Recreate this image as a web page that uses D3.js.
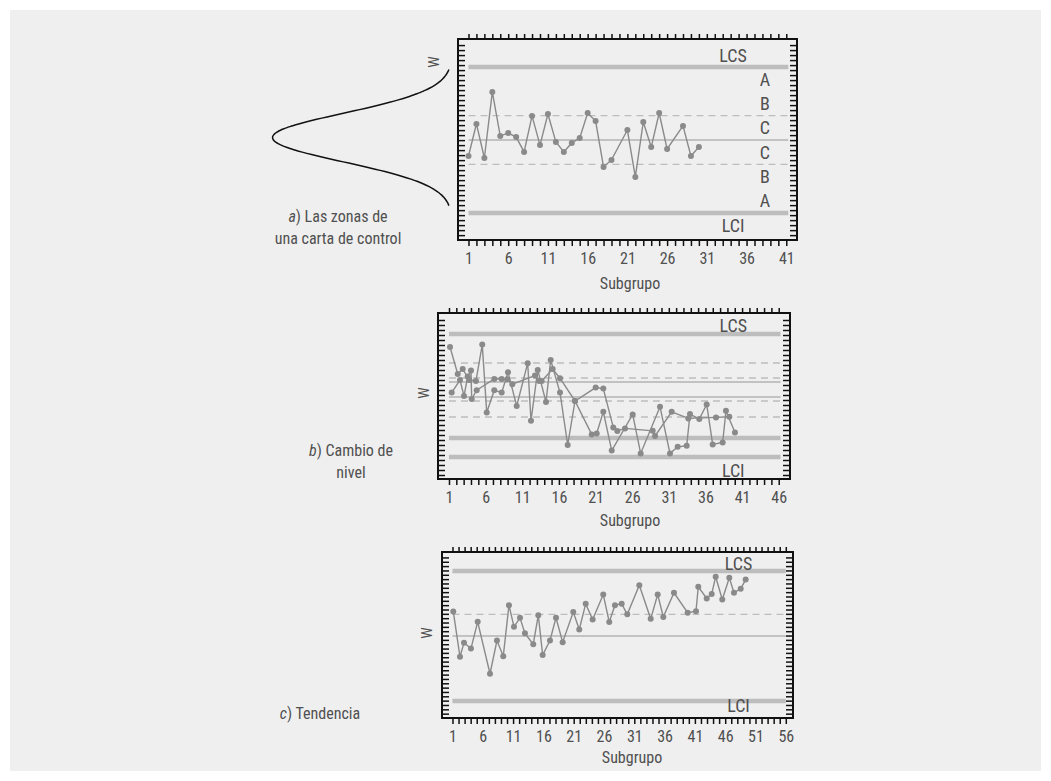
<!DOCTYPE html>
<html><head><meta charset="utf-8">
<script src="https://cdn.jsdelivr.net/npm/d3@7"></script>
<style>
body{margin:0;background:#fff}
text{font-family:"Liberation Sans Narrow","Roboto Condensed","DejaVu Sans Condensed","Arial Narrow",sans-serif;fill:#505050}
</style></head><body>
<svg id="chart" width="1051" height="781"></svg>
<script>
// ---------- DATA ----------
// Panel a: las zonas de una carta de control (values in sigma units, centre = 0)
const subgroupA = [1,2,3,4,5,6,7,8,9,10,11,12,13,14,15,16,17,18,19,21,22,23,24,25,26,28,29,30];
const valueA = [-0.66,0.66,-0.74,1.98,0.16,0.29,0.12,-0.49,0.99,-0.21,1.07,-0.08,-0.49,-0.12,0.08,1.11,0.78,-1.11,-0.82,0.41,-1.52,0.74,-0.29,1.11,-0.37,0.58,-0.66,-0.29];
const limitNamesA = ["LCS","+1","LC","-1","LCI"];
const limitValuesA = [3,1,0,-1,-3];
const zoneLabelsA = ["A","B","C","C","B","A"];
const zoneCentresA = [2.5,1.5,0.5,-0.5,-1.5,-2.5];

// Panel b: cambio de nivel (two traces)
const subgroupB1 = [1.14,2.19,2.87,3.77,4.68,5.54,6.15,7.18,8.19,9.05,10.24,11.74,12.19,13.11,14.24,14.88,16.15,17.2,18.2,20.48,21.16,22.06,23.21,26.07,27.16,29.8,31.16,32.21,33.44,33.89,35.16,36.17,36.99,38.35,38.8,40.03];
const valueB1 = [2.5,1.15,1.4,0.85,0.8,2.62,-0.77,0.34,0.22,1.24,-0.45,1.69,-1.19,1.35,-0.25,1.85,0.22,-2.4,-0.2,-1.87,-1.82,-0.74,-2.68,-0.87,-2.82,-0.49,-2.82,-2.49,-2.44,-0.85,-1.1,-0.37,-2.37,-2.27,-0.69,-1.77];
const subgroupB2 = [1.37,2.5,3.05,3.55,4.0,4.1,4.78,7.18,8.19,8.96,9.64,12.74,13.32,13.65,15.15,16.15,18.2,21.02,22.06,23.42,23.97,25.02,28.8,29.12,31.39,33.66,37.44,39.26];
const valueB2 = [0.22,0.85,0.05,1.02,1.32,-0.1,0.34,0.9,0.9,0.89,0.64,1.07,0.8,0.8,1.4,0.94,-0.2,0.47,0.42,-1.52,-1.7,-1.57,-1.69,-1.95,-0.74,-1.07,-1.02,-0.99];
const limitNamesB = ["LCS","+1","LC","-1","LCI","+1 nuevo","LC nuevo","-1 nuevo","LCI nuevo"];
const limitValuesB = [3.15,0.95,0,-1.0,-3.0,1.7,0.75,-0.2,-2.05];

// Panel c: tendencia
const subgroupC = [1.13,2.24,2.9,4.05,5.16,7.19,8.34,9.38,10.32,11.15,12.14,12.96,14.33,15.16,15.88,17.09,18.08,19.18,20.93,21.92,22.98,24.13,25.88,26.87,27.81,28.92,29.84,31.83,33.71,34.86,35.79,37.55,39.81,41.18,41.56,42.95,43.77,44.43,45.52,46.68,47.45,48.56,49.38];
const valueC = [1.13,-0.96,-0.31,-0.58,0.65,-1.74,-0.21,-0.93,1.42,0.42,0.84,0.12,-0.38,0.96,-0.88,-0.21,0.84,-0.29,1.10,0.30,1.48,0.76,1.91,0.64,1.42,1.48,1.00,2.34,0.79,1.91,0.88,1.99,1.07,1.14,2.27,1.73,1.94,2.73,1.68,2.68,1.99,2.18,2.60];
const limitNamesC = ["LCS","+1","LC","LCI"];
const limitValuesC = [3,1,0,-3];

// tick labels
const xTickLabelsA = [1,6,11,16,21,26,31,36,41];
const xTickLabelsB = [1,6,11,16,21,26,31,36,41,46];
const xTickLabelsC = [1,6,11,16,21,26,31,36,41,46,51,56];

// ---------- LAYOUT ----------
const svg = d3.select("#chart");
svg.append("rect").attr("x",10).attr("y",10).attr("width",1031).attr("height",761).attr("fill","#efefef");

const zip = (xs,vs)=>xs.map((s,i)=>[s,vs[i]]);
const panels = [
  {series:[zip(subgroupA,valueA)], limN:limitNamesA, limV:limitValuesA, labels:xTickLabelsA,
   box:[458,39,797,240], xDom:[-0.32,42.35], yDom:[-4.115,4.156], lineEnd:41.25, tickStep:0.2058,
   lcs:[34.3,3.46], lci:[34.3,-3.5], wPos:[434,62], sub:[630,283], caption:[["a",") Las zonas de"],["","una carta de control"]], capPos:[338,222]},
  {series:[zip(subgroupB1,valueB1),zip(subgroupB2,valueB2)], limN:limitNamesB, limV:limitValuesB, labels:xTickLabelsB,
   box:[438,313,790,479], xDom:[-0.50,47.54], yDom:[-4.1,4.2], lineEnd:46.25, tickStep:0.25,
   lcs:[39.8,3.6], lci:[39.8,-3.65], wPos:[424,393], sub:[630,520], caption:[["b",") Cambio de"],["","nivel"]], capPos:[351,456]},
  {series:[zip(subgroupC,valueC)], limN:limitNamesC, limV:limitValuesC, labels:xTickLabelsC,
   box:[442,552,793,718], xDom:[-0.73,57.19], yDom:[-3.78,3.87], lineEnd:56.0, tickStep:0.2,
   lcs:[48.2,3.35], lci:[48.2,-3.2], wPos:[427,633], sub:[632,757], caption:[["c",") Tendencia"]], capPos:[320,719]}
];

panels.forEach((p,pi)=>{
  const [x0,y0,x1,y1] = p.box;
  const x = d3.scaleLinear().domain(p.xDom).range([x0,x1]);
  const y = d3.scaleLinear().domain(p.yDom).range([y1,y0]);
  const g = svg.append("g");
  const nMax = p.labels[p.labels.length-1];

  p.limN.forEach((n,i)=>{
    const v = p.limV[i];
    const isLimit = n.startsWith("LCS")||n.startsWith("LCI");
    const isCentre = n==="LC"||n==="LC nuevo";
    const ln = g.append("line").attr("x1",x(1)).attr("x2",x(p.lineEnd)).attr("y1",y(v)).attr("y2",y(v));
    if(isLimit) ln.attr("stroke","#bdbdbd").attr("stroke-width",4.5);
    else if(isCentre) ln.attr("stroke","#b3b3b3").attr("stroke-width",1.3);
    else ln.attr("stroke","#bdbdbd").attr("stroke-width",1.3).attr("stroke-dasharray","7,5");
  });

  const line = d3.line().x(d=>x(d[0])).y(d=>y(d[1]));
  p.series.forEach(pts=>{
    g.append("path").datum(pts).attr("fill","none").attr("stroke","#8a8a8a").attr("stroke-width",1.4).attr("d",line);
  });
  p.series.forEach(pts=>{
    g.append("g").selectAll("circle").data(pts).join("circle").attr("cx",d=>x(d[0])).attr("cy",d=>y(d[1])).attr("r",3).attr("fill","#8a8a8a");
  });

  g.append("rect").attr("x",x0).attr("y",y0).attr("width",x1-x0).attr("height",y1-y0)
    .attr("fill","none").attr("stroke","#111").attr("stroke-width",2);

  const xt = d3.range(1,nMax+1);
  const bottom = d3.axisBottom(x).tickValues(xt).tickSize(6).tickFormat(d=>p.labels.includes(d)?d:"");
  const ga = g.append("g").attr("transform",`translate(0,${y1})`).call(bottom);
  ga.select(".domain").remove();
  ga.attr("font-family",null).attr("font-size",null);
  ga.selectAll(".tick line").attr("stroke","#111").attr("stroke-width",1.5);
  ga.selectAll(".tick text").attr("font-size",16).attr("dy","0.95em");
  const top = d3.axisTop(x).tickValues(xt).tickSize(5).tickFormat("");
  const gt = g.append("g").attr("transform",`translate(0,${y0})`).call(top);
  gt.select(".domain").remove();
  gt.selectAll(".tick line").attr("stroke","#111").attr("stroke-width",1.5);

  const yt = d3.range(p.yDom[0]+0.2, p.yDom[1]-0.15, p.tickStep);
  const left = d3.axisRight(y).tickValues(yt).tickSize(7).tickFormat("");
  const gl = g.append("g").attr("transform",`translate(${x0},0)`).call(left);
  gl.select(".domain").remove();
  gl.selectAll(".tick line").attr("stroke","#111").attr("stroke-width",1.5);
  const right = d3.axisLeft(y).tickValues(yt).tickSize(7).tickFormat("");
  const gr = g.append("g").attr("transform",`translate(${x1},0)`).call(right);
  gr.select(".domain").remove();
  gr.selectAll(".tick line").attr("stroke","#111").attr("stroke-width",1.5);

  g.append("text").attr("x",x(p.lcs[0])).attr("y",y(p.lcs[1])).attr("text-anchor","middle").attr("dominant-baseline","central").attr("font-size",18).text("LCS");
  g.append("text").attr("x",x(p.lci[0])).attr("y",y(p.lci[1])).attr("text-anchor","middle").attr("dominant-baseline","central").attr("font-size",18).text("LCI");
  if(pi===0){
    zoneLabelsA.forEach((z,i)=>{
      g.append("text").attr("x",x(38.3)).attr("y",y(zoneCentresA[i])).attr("text-anchor","middle").attr("dominant-baseline","central").attr("font-size",18).text(z);
    });
    const zs = d3.range(-2.8,2.801,0.05);
    const cz = 0.1;
    const bell = d3.line().x(z=>452.5-180*Math.exp(-z*z/2)).y(z=>y(z+cz)).curve(d3.curveBasis);
    g.append("path").datum(zs).attr("d",bell).attr("fill","none").attr("stroke","#111").attr("stroke-width",1.5);
  }
  g.append("text").attr("transform",`translate(${p.wPos[0]},${p.wPos[1]}) rotate(-90)`).attr("text-anchor","middle").attr("dominant-baseline","central").attr("font-size",15).text("W");
  g.append("text").attr("x",p.sub[0]).attr("y",p.sub[1]).attr("text-anchor","middle").attr("dominant-baseline","central").attr("font-size",16).text("Subgrupo");
  p.caption.forEach((ln,li)=>{
    const t = g.append("text").attr("x",p.capPos[0]).attr("y",p.capPos[1]+li*22).attr("text-anchor","middle").attr("font-size",16);
    if(ln[0]) t.append("tspan").attr("font-style","italic").text(ln[0]);
    t.append("tspan").text(ln[1]);
  });
});
</script></body></html>
